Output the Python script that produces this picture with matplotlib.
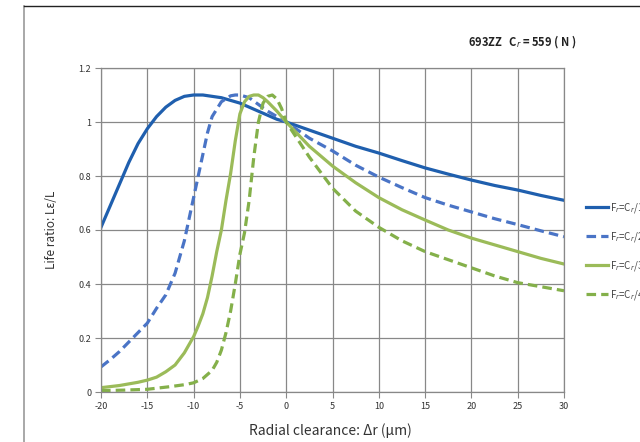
import matplotlib
matplotlib.use('Agg')
import matplotlib.pyplot as plt
from matplotlib.lines import Line2D

plt.rcParams['font.family'] = ['Noto Sans CJK JP', 'DejaVu Sans']

# radial clearance (um) and life ratio for each load case
x1 = [-20, -19, -18, -17, -16, -15, -14, -13, -12, -11, -10, -9, -8, -7, -6, -5, -4, -3, -2, -1, 0,
      2.5, 5, 7.5, 10, 12.5, 15, 17.5, 20, 22.5, 25, 27.5, 30]
y1 = [0.61, 0.69, 0.77, 0.85, 0.92, 0.975, 1.02, 1.055, 1.08, 1.095, 1.1, 1.1, 1.095, 1.09, 1.08, 1.07,
      1.055, 1.04, 1.025, 1.01, 1.0, 0.97, 0.94, 0.91, 0.885, 0.857, 0.83, 0.807, 0.785, 0.765, 0.748, 0.728, 0.71]

x2 = [-20, -19, -18, -17, -16, -15, -14, -13, -12, -11, -10, -9.5, -9, -8.5, -8, -7, -6, -5.5, -5, -4, -3, -2, -1, 0,
      2.5, 5, 7.5, 10, 12.5, 15, 17.5, 20, 22.5, 25, 27.5, 30]
y2 = [0.093, 0.12, 0.15, 0.185, 0.22, 0.255, 0.31, 0.36, 0.44, 0.56, 0.72, 0.80, 0.88, 0.96, 1.02, 1.075, 1.097, 1.1,
      1.1, 1.09, 1.065, 1.04, 1.02, 1.0, 0.94, 0.893, 0.84, 0.796, 0.757, 0.72, 0.692, 0.667, 0.642, 0.62, 0.597, 0.575]

x3 = [-20, -18, -16, -15, -14, -13, -12, -11, -10, -9.5, -9, -8.5, -8, -7.5, -7, -6.5, -6, -5.5, -5, -4.5, -4, -3.5,
      -3, -2.5, -2, -1, 0, 2.5, 5, 7.5, 10, 12.5, 15, 17.5, 20, 22.5, 25, 27.5, 30]
y3 = [0.016, 0.024, 0.036, 0.044, 0.055, 0.075, 0.10, 0.145, 0.205, 0.245, 0.29, 0.35, 0.43, 0.52, 0.60, 0.71, 0.81,
      0.93, 1.03, 1.075, 1.095, 1.1, 1.1, 1.09, 1.075, 1.04, 1.0, 0.91, 0.837, 0.775, 0.72, 0.675, 0.637, 0.60, 0.57,
      0.545, 0.52, 0.495, 0.474]

x4 = [-20, -17.5, -15, -12.5, -11, -10, -9, -8, -7.5, -7, -6.5, -6, -5.5, -5, -4.5, -4, -3.5, -3, -2.5, -2, -1.5,
      -1, -0.5, 0, 2.5, 5, 7.5, 10, 12.5, 15, 17.5, 20, 22.5, 25, 27.5, 30]
y4 = [0.005, 0.007, 0.01, 0.02, 0.027, 0.034, 0.05, 0.08, 0.11, 0.155, 0.22, 0.30, 0.40, 0.51, 0.59, 0.71, 0.87, 1.0,
      1.07, 1.095, 1.1, 1.085, 1.05, 1.0, 0.87, 0.755, 0.67, 0.61, 0.56, 0.52, 0.49, 0.46, 0.43, 0.405, 0.39, 0.375]

labels = ['F$_r$=C$_r$/10', 'F$_r$=C$_r$/20', 'F$_r$=C$_r$/30', 'F$_r$=C$_r$/40']
xticks = [-20, -15, -10, -5, 0, 5, 10, 15, 20, 25, 30]
yticks = [0, 0.2, 0.4, 0.6, 0.8, 1.0, 1.2]
yticklabels = ['0', '0.2', '0.4', '0.6', '0.8', '1', '1.2']

fig = plt.figure(figsize=(6.4, 4.42), dpi=100)
ax = fig.add_axes([101/640, 1-392/442, 463/640, 324/442])

dash = (0, (3, 1.6))
ax.plot(x1, y1, color='#1F5FAE', lw=2.3, label=labels[0])
ax.plot(x2, y2, color='#4A74C6', lw=2.3, linestyle=dash, label=labels[1])
ax.plot(x3, y3, color='#9BBB59', lw=2.3, label=labels[2])
ax.plot(x4, y4, color='#84B04A', lw=2.3, linestyle=dash, label=labels[3])

ax.set_xlim(-20, 30)
ax.set_ylim(0, 1.2)
ax.set_xticks(xticks)
ax.set_xticklabels([str(t) for t in xticks], fontsize=6.5, color='#333333')
ax.set_yticks(yticks)
ax.set_yticklabels(yticklabels, fontsize=6.5, color='#333333')
ax.tick_params(length=4, width=0.8, color='#888888', pad=3)
ax.grid(True, color='#888888', lw=0.9)
ax.set_axisbelow(True)
for s in ax.spines.values():
    s.set_color('#888888')
    s.set_linewidth(0.9)

ax.set_xlabel('Radial clearance: Δr (μm)', fontsize=10, color='#333333')
ax.xaxis.set_label_coords(0.495, -0.095)
ax.set_ylabel('Life ratio: Lε/L', fontsize=8.5, color='#333333')
ax.yaxis.set_label_coords(-0.093, 0.5)

fig.text(522/640, 1-42/442, '693ZZ   C$_r$ = 559 ( N )', fontsize=8, fontweight='bold',
         ha='center', va='center', color='#222222')

# legend sits at the right edge and is cut off there, as in the original
fig.legend(loc='upper left', bbox_to_anchor=(577/640, 1-192/442), frameon=False, fontsize=7,
           handlelength=2.3, handletextpad=0.2, labelspacing=1.55, labelcolor='#444444')

# chart area border (cut off on the right and bottom)
fig.add_artist(Line2D([24/640, 24/640], [0, 1-6/442], color='#999999', lw=1.2))
fig.add_artist(Line2D([24/640, 1], [1-6/442, 1-6/442], color='#222222', lw=1.0))

fig.savefig('out.png', dpi=100)
